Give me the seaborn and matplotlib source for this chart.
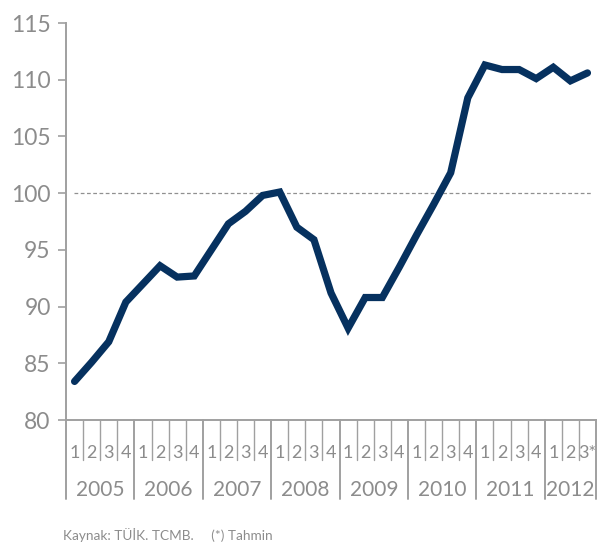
import matplotlib
matplotlib.use("Agg")
import matplotlib.pyplot as plt
import matplotlib.transforms as mtransforms
import pandas as pd
import seaborn as sns

# Quarterly index, 2005Q1 - 2012Q3 (last quarter is an estimate)
years = [2005, 2006, 2007, 2008, 2009, 2010, 2011, 2012]
quarters_per_year = [4, 4, 4, 4, 4, 4, 4, 3]
quarter_labels = ["1", "2", "3", "4"] * 7 + ["1", "2", "3*"]
values = [83.4, 85.1, 86.9, 90.4,
          92.0, 93.6, 92.6, 92.7,
          95.0, 97.3, 98.4, 99.8,
          100.1, 97.0, 95.9, 91.2,
          88.1, 90.8, 90.8, 93.5,
          96.3, 99.0, 101.8, 108.4,
          111.3, 110.9, 110.9, 110.1,
          111.1, 109.9, 110.6]
y_ticks = [80, 85, 90, 95, 100, 105, 110, 115]
reference_level = 100
footer = "Kaynak: TÜİK. TCMB.     (*) Tahmin"

periods = [f"{y}-{q + 1}" for y, n in zip(years, quarters_per_year) for q in range(n)]
df = pd.DataFrame({"period": periods, "value": values})

sns.set_theme(style="white")
plt.rcParams["font.family"] = ["Lato", "DejaVu Sans"]

GREY = "#8c8c8c"
LINE_GREY = "#a0a0a0"
NAVY = "#06315f"

fig = plt.figure(figsize=(5.98, 5.43), dpi=100)
ax = fig.add_axes([0.1104, 0.2265, 0.8863, 0.7311])

ax.axhline(reference_level, xmin=0.016, xmax=0.99, color="#909090",
           lw=0.9, ls=(0, (3, 2)), zorder=1)
sns.lineplot(data=df, x="period", y="value", ax=ax, color=NAVY, lw=5.2,
             sort=False, solid_capstyle="round", solid_joinstyle="miter", zorder=3)

n = len(values)
ax.set_xlim(-0.5, n - 0.5)
ax.set_ylim(80, 115)
ax.set_yticks(y_ticks)
ax.set_yticklabels([str(t) for t in y_ticks], color=GREY, fontsize=16.5)
ax.set_xticks([])
ax.set_xlabel("")
ax.set_ylabel("")

for side in ["top", "right"]:
    ax.spines[side].set_visible(False)
for side in ["left", "bottom"]:
    ax.spines[side].set_color(LINE_GREY)
    ax.spines[side].set_linewidth(1.4)
ax.tick_params(axis="y", which="major", left=True, length=6, width=1.2,
               color=LINE_GREY, pad=5)

# Category table beneath the x axis: quarter cells and year cells
trans = mtransforms.blended_transform_factory(ax.transData, ax.transAxes)
q_depth = -0.100
y_depth = -0.198
pos = 0
year_edges = [-0.5]
for y, nq in zip(years, quarters_per_year):
    start = pos
    for k in range(nq):
        ax.text(pos, -0.083, quarter_labels[pos], transform=trans, ha="center",
                va="center", color=GREY, fontsize=13)
        if k > 0:
            ax.plot([pos - 0.5, pos - 0.5], [0, q_depth], transform=trans,
                    color=LINE_GREY, lw=1.0, clip_on=False)
        pos += 1
    ax.text((start + pos - 1) / 2, -0.177, str(y), transform=trans, ha="center",
            va="center", color=GREY, fontsize=15)
    year_edges.append(pos - 0.5)

for xe in year_edges:
    ax.plot([xe, xe], [0, y_depth], transform=trans, color=LINE_GREY,
            lw=1.4, clip_on=False)

fig.text(63 / 598, 1 - 535 / 543, footer, ha="left", va="center",
         color=GREY, fontsize=9.8)

fig.savefig("out.png", dpi=100, facecolor="white")
